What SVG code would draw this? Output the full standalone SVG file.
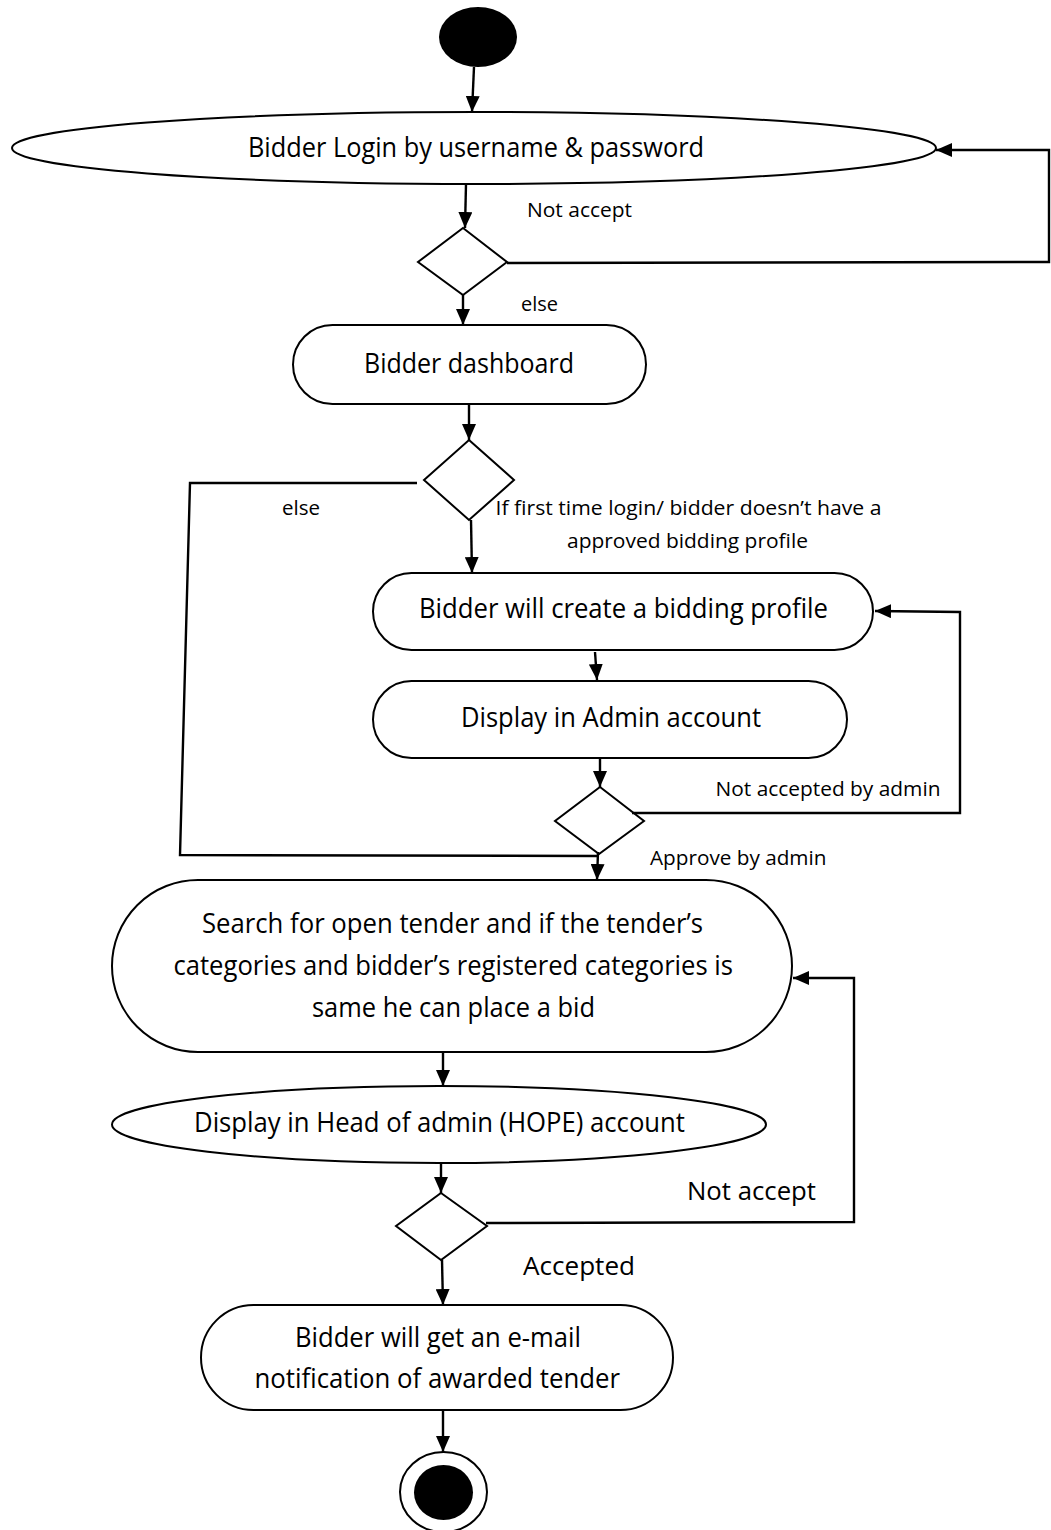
<svg xmlns="http://www.w3.org/2000/svg" width="1051" height="1530" viewBox="0 0 1051 1530">
  <style>
    .node { fill: #ffffff; stroke: #000000; stroke-width: 2; }
    .solid { fill: #000000; stroke: none; }
    .edge { fill: none; stroke: #000000; stroke-width: 2.4; }
    .t { font-family: "Open Sans", "Liberation Sans", sans-serif; fill: #000000; }
    .big { font-size: 26.5px; }
    .small { font-size: 19.5px; }
    .mid { font-size: 25.5px; }
  </style>
  <defs>
    <marker id="arrow" viewBox="0 0 16 14" refX="16" refY="7" markerWidth="16" markerHeight="14" markerUnits="userSpaceOnUse" orient="auto">
      <path d="M0,0 L16,7 L0,14 z" fill="#000000"/>
    </marker>
  </defs>

  <!-- initial state -->
  <g id="start">
    <ellipse class="solid" cx="478" cy="37" rx="39" ry="30"/>
  </g>

  <g id="login">
    <ellipse class="node" cx="474" cy="148" rx="462" ry="36"/>
    <text class="t big" x="248" y="157" textLength="456" lengthAdjust="spacingAndGlyphs">Bidder Login by username &amp; password</text>
  </g>

  <g id="decision-login">
    <polygon class="node" points="463,228 507,262 463,295 418,262"/>
  </g>

  <g id="dashboard">
    <rect class="node" x="293" y="325" width="353" height="79" rx="39.5" ry="39.5"/>
    <text class="t big" x="364" y="373" textLength="210" lengthAdjust="spacingAndGlyphs">Bidder dashboard</text>
  </g>

  <g id="decision-profile">
    <polygon class="node" points="469,440 514,480 469,520 424,480"/>
  </g>

  <g id="create-profile">
    <rect class="node" x="373" y="573" width="500" height="77" rx="38.5" ry="38.5"/>
    <text class="t big" x="419" y="618" textLength="409" lengthAdjust="spacingAndGlyphs">Bidder will create a bidding profile</text>
  </g>

  <g id="admin-account">
    <rect class="node" x="373" y="681" width="474" height="77" rx="38.5" ry="38.5"/>
    <text class="t big" x="461" y="727" textLength="300" lengthAdjust="spacingAndGlyphs">Display in Admin account</text>
  </g>

  <g id="decision-admin">
    <polygon class="node" points="600,787 644,821 599,854 555,821"/>
  </g>

  <g id="search-tender">
    <rect class="node" x="112" y="880" width="680" height="172" rx="86" ry="86"/>
    <text class="t big" x="202" y="933" textLength="501" lengthAdjust="spacingAndGlyphs">Search for open tender and if the tender’s</text>
    <text class="t big" x="173.5" y="975" textLength="559.5" lengthAdjust="spacingAndGlyphs">categories and bidder’s registered categories is</text>
    <text class="t big" x="312" y="1017" textLength="283" lengthAdjust="spacingAndGlyphs">same he can place a bid</text>
  </g>

  <g id="hope-account">
    <ellipse class="node" cx="439" cy="1124.5" rx="327" ry="38.5"/>
    <text class="t big" x="194" y="1132" textLength="491" lengthAdjust="spacingAndGlyphs">Display in Head of admin (HOPE) account</text>
  </g>

  <g id="decision-hope">
    <polygon class="node" points="441,1193 487,1226 441,1260 396,1226"/>
  </g>

  <g id="email">
    <rect class="node" x="201" y="1305" width="472" height="105" rx="52.5" ry="52.5"/>
    <text class="t big" x="295" y="1347" textLength="286" lengthAdjust="spacingAndGlyphs">Bidder will get an e-mail</text>
    <text class="t big" x="254.5" y="1388" textLength="365.5" lengthAdjust="spacingAndGlyphs">notification of awarded tender</text>
  </g>

  <!-- final state -->
  <g id="end">
    <ellipse class="node" cx="443.5" cy="1492" rx="43.5" ry="40"/>
    <ellipse class="solid" cx="443.5" cy="1492.5" rx="29.5" ry="27.5"/>
  </g>

  <!-- connectors -->
  <g id="connectors">
    <line class="edge" x1="474" y1="67" x2="472" y2="112" marker-end="url(#arrow)"/>
    <line class="edge" x1="466" y1="184" x2="465" y2="228" marker-end="url(#arrow)"/>
    <polyline class="edge" points="507,263 1049,262 1049,150 936,150" marker-end="url(#arrow)"/>
    <line class="edge" x1="463" y1="295" x2="463" y2="325" marker-end="url(#arrow)"/>
    <line class="edge" x1="469" y1="404" x2="469" y2="440" marker-end="url(#arrow)"/>
    <line class="edge" x1="471" y1="520" x2="472" y2="573" marker-end="url(#arrow)"/>
    <polyline class="edge" points="417,483 190,483 180,855 598,856"/>
    <line class="edge" x1="595" y1="652" x2="597" y2="680" marker-end="url(#arrow)"/>
    <line class="edge" x1="600" y1="758" x2="600" y2="787" marker-end="url(#arrow)"/>
    <polyline class="edge" points="632,813 960,813 960,612 875,611" marker-end="url(#arrow)"/>
    <line class="edge" x1="598" y1="852" x2="597" y2="880" marker-end="url(#arrow)"/>
    <line class="edge" x1="443" y1="1052" x2="443" y2="1086" marker-end="url(#arrow)"/>
    <line class="edge" x1="441" y1="1163" x2="441" y2="1193" marker-end="url(#arrow)"/>
    <polyline class="edge" points="486,1223 854,1222 854,978 793,978" marker-end="url(#arrow)"/>
    <line class="edge" x1="442" y1="1260" x2="443" y2="1305" marker-end="url(#arrow)"/>
    <line class="edge" x1="443" y1="1410" x2="443" y2="1452" marker-end="url(#arrow)"/>
  </g>

  <!-- guard labels -->
  <g id="labels">
    <text class="t small" x="527" y="217" textLength="105" lengthAdjust="spacingAndGlyphs">Not accept</text>
    <text class="t small" x="521" y="311" textLength="37" lengthAdjust="spacingAndGlyphs">else</text>
    <text class="t small" x="282" y="515" textLength="38" lengthAdjust="spacingAndGlyphs">else</text>
    <text class="t small" x="495.5" y="515" textLength="386" lengthAdjust="spacingAndGlyphs">If first time login/ bidder doesn’t have a</text>
    <text class="t small" x="567" y="548" textLength="241" lengthAdjust="spacingAndGlyphs">approved bidding profile</text>
    <text class="t small" x="715.5" y="796" textLength="225" lengthAdjust="spacingAndGlyphs">Not accepted by admin</text>
    <text class="t small" x="650" y="865" textLength="176.5" lengthAdjust="spacingAndGlyphs">Approve by admin</text>
    <text class="t mid" x="687" y="1200" textLength="129" lengthAdjust="spacingAndGlyphs">Not accept</text>
    <text class="t mid" x="523" y="1275" textLength="112" lengthAdjust="spacingAndGlyphs">Accepted</text>
  </g>
</svg>
